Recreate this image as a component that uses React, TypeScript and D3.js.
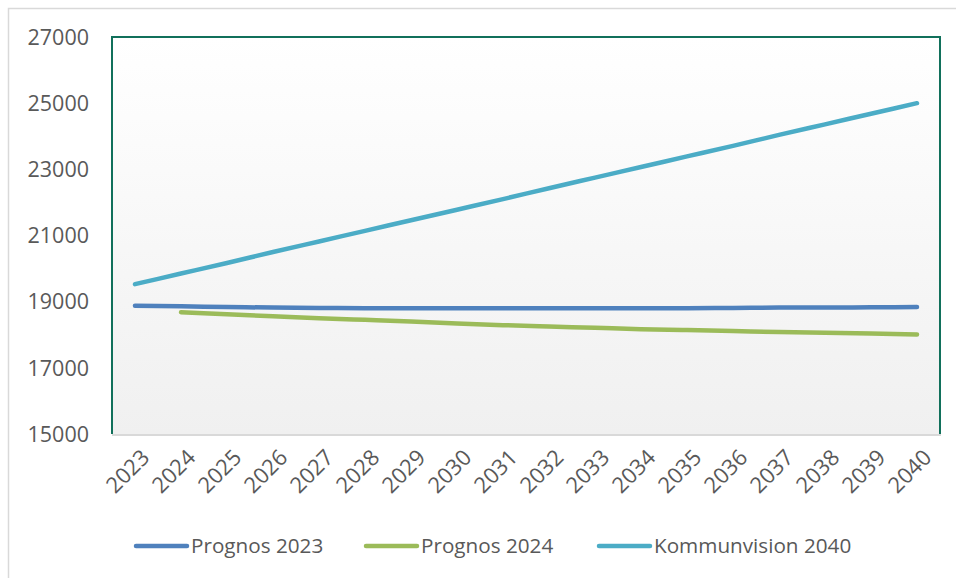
import React, { useEffect, useRef } from 'react';
import * as d3 from 'd3';

const YEARS = [
  '2023', '2024', '2025', '2026', '2027', '2028', '2029', '2030', '2031',
  '2032', '2033', '2034', '2035', '2036', '2037', '2038', '2039', '2040',
];

const PROGNOS_2023 = [
  18880, 18860, 18840, 18820, 18810, 18800, 18800, 18800, 18800,
  18800, 18800, 18800, 18800, 18810, 18820, 18820, 18830, 18840,
];

// Prognos 2024 starts in 2024
const PROGNOS_2024 = [
  null, 18680, 18620, 18560, 18500, 18450, 18400, 18340, 18290,
  18250, 18210, 18170, 18140, 18110, 18080, 18060, 18040, 18010,
];

const KOMMUNVISION_2040 = [
  19530, 19850, 20170, 20500, 20820, 21140, 21460, 21780, 22100,
  22430, 22750, 23070, 23390, 23710, 24040, 24360, 24680, 25000,
];

const Y_TICKS = [15000, 17000, 19000, 21000, 23000, 25000, 27000];

const SERIES = [
  { name: 'Prognos 2023', values: PROGNOS_2023, color: '#4f81bd' },
  { name: 'Prognos 2024', values: PROGNOS_2024, color: '#9bbb59' },
  { name: 'Kommunvision 2040', values: KOMMUNVISION_2040, color: '#4bacc6' },
];

const FONT = '"Open Sans", "Noto Sans", sans-serif';
const TEXT = '#595959';

export default function App() {
  const svgRef = useRef<SVGSVGElement | null>(null);

  useEffect(() => {
    const svg = d3.select(svgRef.current);
    const width = 956;
    const height = 578;
    svg.selectAll('*').remove();

    const left = 112;
    const right = 940;
    const top = 37;
    const bottom = 434;

    // outer chart frame (only top/left visible in the shot)
    svg.append('rect')
      .attr('x', 8.5).attr('y', 8.5)
      .attr('width', width + 20).attr('height', height + 20)
      .attr('fill', '#fff').attr('stroke', '#d9d9d9').attr('stroke-width', 1.5);

    const defs = svg.append('defs');
    const grad = defs.append('linearGradient')
      .attr('id', 'plotbg').attr('x1', 0).attr('y1', 0).attr('x2', 0).attr('y2', 1);
    grad.append('stop').attr('offset', '0%').attr('stop-color', '#ffffff');
    grad.append('stop').attr('offset', '100%').attr('stop-color', '#f0f0f0');

    const x = d3.scaleBand().domain(YEARS).range([left, right]);
    const y = d3.scaleLinear().domain([15000, 27000]).range([bottom, top]);

    svg.append('rect')
      .attr('x', left).attr('y', top)
      .attr('width', right - left).attr('height', bottom - top)
      .attr('fill', 'url(#plotbg)');

    // plot border: green on top/left/right, grey at the bottom
    svg.append('path')
      .attr('d', `M${left},${bottom} V${top} H${right} V${bottom}`)
      .attr('fill', 'none').attr('stroke', '#11705b').attr('stroke-width', 2);
    svg.append('line')
      .attr('x1', left).attr('x2', right + 1)
      .attr('y1', bottom + 1).attr('y2', bottom + 1)
      .attr('stroke', '#d9d9d9').attr('stroke-width', 2);

    // y labels
    svg.append('g').selectAll('text').data(Y_TICKS).join('text')
      .attr('x', 89).attr('y', (d) => y(d))
      .attr('dy', '0.36em')
      .attr('text-anchor', 'end')
      .attr('font-family', FONT).attr('font-size', 21.5).attr('fill', TEXT)
      .text((d) => d);

    // x labels
    svg.append('g').selectAll('text').data(YEARS).join('text')
      .attr('transform', (d) => `translate(${(x(d) as number) + x.bandwidth() / 2 + 5},${bottom + 14}) rotate(-45)`)
      .attr('text-anchor', 'end')
      .attr('dy', '0.7em')
      .attr('font-family', FONT).attr('font-size', 22).attr('fill', TEXT)
      .text((d) => d);

    const line = d3.line<number | null>()
      .defined((d) => d != null)
      .x((_, i) => (x(YEARS[i]) as number) + x.bandwidth() / 2)
      .y((d) => y(d as number))
      .curve(d3.curveMonotoneX);

    SERIES.forEach((s) => {
      svg.append('path')
        .datum(s.values)
        .attr('d', line)
        .attr('fill', 'none')
        .attr('stroke', s.color)
        .attr('stroke-width', 4.5)
        .attr('stroke-linecap', 'round')
        .attr('stroke-linejoin', 'round');
    });

    // legend
    const legendX = [136, 366, 599];
    SERIES.forEach((s, i) => {
      const g = svg.append('g').attr('transform', `translate(${legendX[i]},546)`);
      g.append('line')
        .attr('x1', 0).attr('x2', 51).attr('y1', 0).attr('y2', 0)
        .attr('stroke', s.color).attr('stroke-width', 4.5).attr('stroke-linecap', 'round');
      g.append('text')
        .attr('x', 55).attr('y', 0).attr('dy', '0.36em')
        .attr('font-family', FONT).attr('font-size', 20.7).attr('fill', TEXT)
        .text(s.name);
    });
  }, []);

  return (
    <svg ref={svgRef} width={956} height={578}
      style={{ position: 'absolute', left: 0, top: 0, display: 'block' }} />
  );
}
